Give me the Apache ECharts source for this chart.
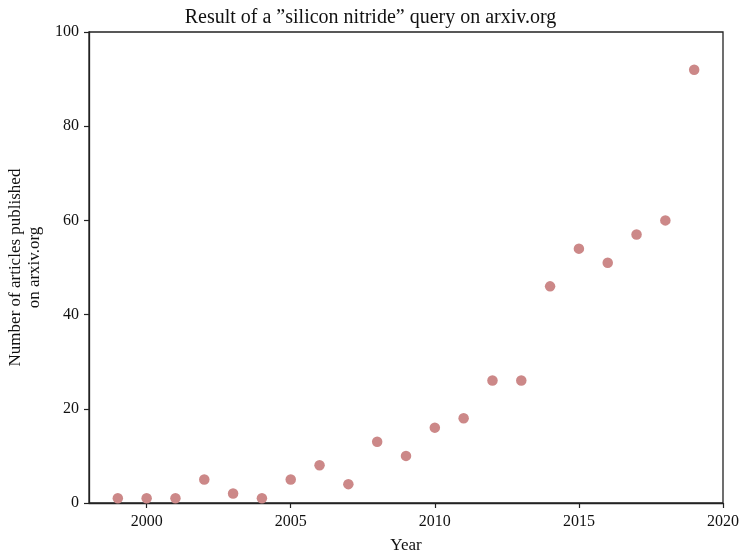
<!DOCTYPE html>
<html><head><meta charset="utf-8">
<script src="https://cdn.jsdelivr.net/npm/echarts@6/dist/echarts.min.js"></script>
<style>html,body{margin:0;padding:0;background:#fff}#c{width:741px;height:556px}</style>
</head><body><div id="c"></div>
<script>
const years = [1999,2000,2001,2002,2003,2004,2005,2006,2007,2008,2009,2010,2011,2012,2013,2014,2015,2016,2017,2018,2019];
const counts = [1,1,1,5,2,1,5,8,4,13,10,16,18,26,26,46,54,51,57,60,92];
const xTicks = [2000,2005,2010,2015,2020];
const yTicks = [0,20,40,60,80,100];
const FONT = 'Liberation Serif';
const chart = echarts.init(document.getElementById('c'), null, {renderer:'canvas'});
chart.setOption({
  animation:false,
  backgroundColor:'#fff',
  title:{text:'Result of a \u201dsilicon nitride\u201d query on arxiv.org', left:'center', top:3,
    textStyle:{fontFamily:FONT, fontSize:20, fontWeight:'normal', color:'#111'}},
  grid:{left:89, right:18, top:32, bottom:53, containLabel:false, outerBoundsMode:'none', show:true, borderColor:'#222', borderWidth:1.3, backgroundColor:'transparent'},
  xAxis:{type:'value', min:1998, max:2020,
    name:'Year', nameLocation:'middle', nameGap:34,
    nameTextStyle:{fontFamily:FONT, fontSize:17, color:'#111'},
    axisLine:{show:true, onZero:false, lineStyle:{color:'#222', width:1.3}},
    axisTick:{show:true, length:5, inside:false, customValues:xTicks, lineStyle:{color:'#222', width:1.2}},
    axisLabel:{customValues:xTicks, formatter:v=>String(v), fontFamily:FONT, fontSize:16, color:'#111', margin:11, showMinLabel:true, showMaxLabel:true},
    splitLine:{show:false}},
  yAxis:{type:'value', min:0, max:100, interval:20,
    name:'Number of articles published\non arxiv.org', nameLocation:'middle', nameGap:43, nameRotate:90,
    nameTextStyle:{fontFamily:FONT, fontSize:17, color:'#111', lineHeight:19},
    axisLine:{show:true, lineStyle:{color:'#222', width:1.3}},
    axisTick:{show:true, length:5, lineStyle:{color:'#222', width:1.2}},
    axisLabel:{fontFamily:FONT, fontSize:16, color:'#111', margin:10},
    splitLine:{show:false}},
  series:[{type:'scatter', data:years.map((y,i)=>[y,counts[i]]), symbolSize:10.5,
    itemStyle:{color:'#cc8888', opacity:1}}]
});
</script></body></html>
